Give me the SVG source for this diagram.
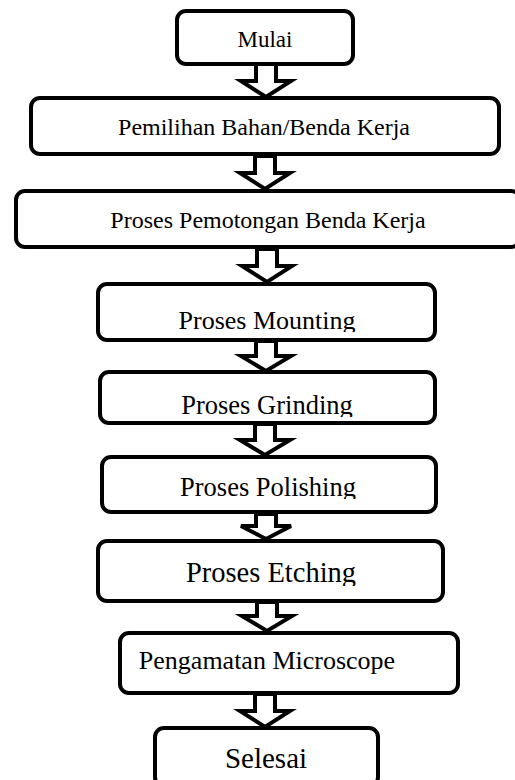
<svg xmlns="http://www.w3.org/2000/svg" width="515" height="780" viewBox="0 0 515 780">
<style>
.box{fill:#fff;stroke:#000;stroke-width:4}
.arr{fill:#fff;stroke:#000;stroke-width:4;stroke-linejoin:miter}
text{font-family:"Liberation Serif","Times New Roman",serif;fill:#000;text-anchor:middle}
</style>
<defs>
<clipPath id="c4"><rect x="0" y="280" width="515" height="52"/></clipPath>
<clipPath id="c5"><rect x="0" y="370" width="515" height="47"/></clipPath>
<clipPath id="c6"><rect x="0" y="455" width="515" height="44"/></clipPath>
<clipPath id="c7"><rect x="0" y="538" width="515" height="48"/></clipPath>
</defs>
<rect width="515" height="780" fill="#fff"/>
<g id="connectors">
<polygon class="arr" points="256,64 276,64 276,81 291,81 266,97 241,81 256,81"/>
<polygon class="arr" points="255,156 275,156 275,173 290,173 265,189 240,173 255,173"/>
<polygon class="arr" points="257,249 277,249 277,266 292,266 267,282 242,266 257,266"/>
<polygon class="arr" points="256,341 276,341 276,356 291,356 266,371 241,356 256,356"/>
<polygon class="arr" points="255,424 275,424 275,440 290,440 265,455 240,440 255,440"/>
<polygon class="arr" points="256,514 276,514 276,526 291,526 266,539 241,526 256,526"/>
<polygon class="arr" points="257,602 277,602 277,616 292,616 267,631 242,616 257,616"/>
<polygon class="arr" points="255,694 275,694 275,711 290,711 265,727 240,711 255,711"/>
</g>
<g id="n1"><rect class="box" x="177" y="11" width="176" height="53" rx="9"/><text x="265" y="47" font-size="23">Mulai</text></g>
<g id="n2"><rect class="box" x="31" y="98" width="468" height="56" rx="9"/><text x="264" y="135" font-size="24">Pemilihan Bahan/Benda Kerja</text></g>
<g id="n3"><rect class="box" x="16" y="191" width="504" height="56" rx="9"/><text x="268" y="228" font-size="24">Proses Pemotongan Benda Kerja</text></g>
<g id="n4"><rect class="box" x="98" y="284" width="337" height="56" rx="9"/><text x="267" y="329" font-size="26" clip-path="url(#c4)">Proses Mounting</text></g>
<g id="n5"><rect class="box" x="100" y="372" width="335" height="51" rx="9"/><text x="267" y="414" font-size="26.5" clip-path="url(#c5)">Proses Grinding</text></g>
<g id="n6"><rect class="box" x="102" y="457" width="334" height="55" rx="9"/><text x="268" y="496" font-size="26.5" clip-path="url(#c6)">Proses Polishing</text></g>
<g id="n7"><rect class="box" x="98" y="541" width="345" height="60" rx="9"/><text x="271" y="582" font-size="28.5" clip-path="url(#c7)">Proses Etching</text></g>
<g id="n8"><rect class="box" x="120" y="633" width="338" height="60" rx="9"/><text x="267" y="669" font-size="26">Pengamatan Microscope</text></g>
<g id="n9"><rect class="box" x="155" y="728" width="223" height="58" rx="9"/><text x="266" y="768" font-size="29">Selesai</text></g>
</svg>
